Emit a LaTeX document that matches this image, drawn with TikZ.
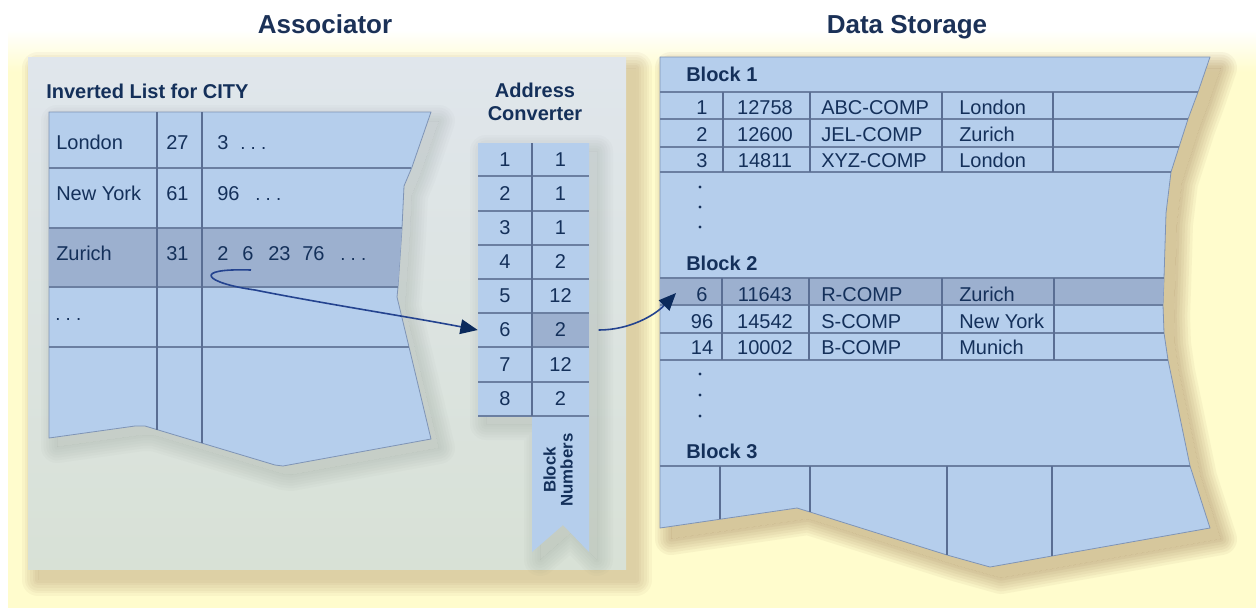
\documentclass[tikz,border=0pt]{standalone}
\usepackage{fontspec}
\setmainfont{Liberation Sans}
\usetikzlibrary{arrows.meta}
\definecolor{bgyel}{HTML}{FFFCCD}
\definecolor{panel}{HTML}{D8E1D6}
\definecolor{paneltop}{HTML}{E0E6EC}
\definecolor{cellblue}{HTML}{B5CEEC}
\definecolor{cellhi}{HTML}{9CB0CF}
\definecolor{gridc}{HTML}{6B7FA1}
\definecolor{vgridc}{HTML}{5A6E93}
\definecolor{edgec}{HTML}{7F94B6}
\definecolor{txt}{HTML}{14305A}
\definecolor{ttlc}{HTML}{1B3157}
\definecolor{curvec}{HTML}{24438F}
\definecolor{arrowc}{HTML}{0B2A5C}
\definecolor{shadowbrown}{HTML}{7A4E2E}
\definecolor{shadowgrey}{HTML}{4E5A50}
% #1 colour, #2 shift, #3 opacity per ring, #4 core opacity, #5 path
\newcommand\softshadow[5]{%
  \begin{scope}[shift={#2}]
    \begin{scope}[even odd rule]
      \clip (-300,-300) rectangle (1600,900) #5;
      \foreach \w in {24,20,16,12,8,4}{%
        \path[draw=#1,line width=\w pt,line join=round,draw opacity=#3] #5;}
    \end{scope}
    \path[fill=#1,fill opacity=#4] #5;
  \end{scope}}
\def\listpath{(49,112) -- (431,112) -- (412,167) -- (404,186) -- (402,228) -- (398,287) -- (397,297) -- (409,347) -- (431,439) -- (283,466) -- (275,465) -- (145,426) -- (135,426) -- (49,438) -- cycle}
\def\acpath{(478,143) -- (589,143) -- (589,552) -- (563,525) -- (532,552) -- (532,416) -- (478,416) -- cycle}
\def\dspath{(660,57) -- (1210,57) -- (1198,92) -- (1188,119) -- (1179,147) -- (1171,172) -- (1166,213) -- (1164,278) -- (1163,305) -- (1164,333) -- (1168,360) -- (1190,466) -- (1210,528) -- (990,567) -- (947,555) -- (810,512) -- (797,508) -- (660,528) -- cycle}
\tikzset{
  cell/.style={text=txt,font=\fontsize{15}{18}\selectfont,inner sep=0pt},
  hdr/.style={text=txt,font=\bfseries\fontsize{15}{18}\selectfont,inner sep=0pt},
  ttl/.style={text=ttlc,font=\bfseries\fontsize{19.5}{23}\selectfont,inner sep=0pt},
  dots/.style={text=txt,font=\fontsize{14}{16}\selectfont,inner sep=0pt},
  accl/.style={cell,minimum width=40.5pt,minimum height=25pt},
  accr/.style={cell,minimum width=42.75pt,minimum height=25pt},
  hline/.style={draw=gridc,line width=2pt},
  vline/.style={draw=vgridc,line width=1.7pt},
  shapefill/.style={fill=cellblue,draw=edgec,line width=0.6pt,line join=round},
  conn/.style={draw=curvec,line width=1.2pt,-{Triangle[length=13pt,width=11pt,color=arrowc]}}
}
\begin{document}
\begin{tikzpicture}[x=0.75pt,y=-0.75pt]
\useasboundingbox (0,0) rectangle (1256,608);
% background
\fill[white] (0,0) rectangle (1256,608);
\shade[top color=white,bottom color=bgyel] (8,30) rectangle (1256,72);
\fill[bgyel] (8,72) rectangle (1256,608);
% titles
\node[ttl,anchor=base] (tA) at (325,33) {Associator};
\node[ttl,anchor=base] (tD) at (907,33) {Data Storage};
% associator panel
\softshadow{shadowbrown}{(10,11)}{0.045}{0.25}{(28,57) rectangle (626,569)}
\shade[top color=paneltop,bottom color=panel] (28,57) rectangle (626,569);
\node[hdr,anchor=base west] (ilh) at (46,98) {Inverted List for CITY};
\node[hdr,anchor=base] (ach1) at (535,97) {Address};
\node[hdr,anchor=base] (ach2) at (535,120) {Converter};
% inverted list
\softshadow{shadowgrey}{(8,9)}{0.025}{0.14}{\listpath}
\path[shapefill] \listpath;
\fill[cellhi] (49,228) -- (402,228) -- (398,287) -- (49,287) -- cycle;
\draw[hline] (49,168) -- (411,168);
\draw[hline] (49,228) -- (402,228);
\draw[hline] (49,287) -- (398,287);
\draw[hline] (49,347) -- (409,347);
\draw[vline] (157,112) -- (157,430);
\draw[vline] (202,112) -- (202,443);
\node[cell,anchor=base west] (l1a) at (56,149) {London};
\node[cell,anchor=base west] (l1b) at (166,149) {27};
\node[cell,anchor=base west] (l1c) at (217,149) {3};
\node[dots,anchor=base west] (l1d) at (240,149) {.\ .\ .};
\node[cell,anchor=base west] (l2a) at (56,200) {New York};
\node[cell,anchor=base west] (l2b) at (166,200) {61};
\node[cell,anchor=base west] (l2c) at (217,200) {96};
\node[dots,anchor=base west] (l2d) at (255,200) {.\ .\ .};
\node[cell,anchor=base west] (l3a) at (56,260) {Zurich};
\node[cell,anchor=base west] (l3b) at (166,260) {31};
\node[cell,anchor=base west] (z2) at (217,260) {2};
\node[cell,anchor=base west] (z6) at (242,260) {6};
\node[cell,anchor=base west] (z23) at (268,260) {23};
\node[cell,anchor=base west] (z76) at (302,260) {76};
\node[dots,anchor=base west] (zd) at (340,260) {.\ .\ .};
\node[dots,anchor=base west] (l4a) at (55,320) {.\ .\ .};
% address converter
\softshadow{shadowgrey}{(8,8)}{0.025}{0.14}{\acpath}
\path[fill=cellblue] \acpath;
\fill[cellhi] (532,313) rectangle (589,347);
\foreach \yy in {176,211,245,279,313,347,382,416}{\draw[hline] (478,\yy) -- (589,\yy);}
\draw[vline] (532,143) -- (532,416);
\foreach \i/\yy/\r in {1/159.5/1,2/193.5/1,3/228/1,4/262/2,5/296/12,6/330/2,7/364.5/12,8/399/2}{
  \node[accl] (acL\i) at (505,\yy) {\i};
  \node[accr] (acR\i) at (560.5,\yy) {\r};
}
\node[hdr,font=\bfseries\fontsize{12.6}{12.75}\selectfont,rotate=90,align=center] (bn) at (558,470) {Block\\Numbers};
% data storage
\softshadow{shadowbrown}{(11,11)}{0.055}{0.3}{\dspath}
\path[shapefill] \dspath;
\fill[cellhi] (660,278) -- (1164,278) -- (1163,305) -- (660,305) -- cycle;
\draw[hline] (660,92) -- (1198,92);
\draw[hline] (660,119) -- (1188,119);
\draw[hline] (660,147) -- (1179,147);
\draw[hline] (660,172) -- (1171,172);
\foreach \xx in {723,810,942,1053}{\draw[vline] (\xx,92) -- (\xx,172);}
\draw[hline] (660,278) -- (1164,278);
\draw[hline] (660,305) -- (1163,305);
\draw[hline] (660,333) -- (1164,333);
\draw[hline] (660,360) -- (1168,360);
\foreach \xx in {722,809,942,1054}{\draw[vline] (\xx,278) -- (\xx,360);}
\draw[hline] (660,466) -- (1190,466);
\draw[vline] (720,466) -- (720,519);
\draw[vline] (810,466) -- (810,512);
\draw[vline] (947,466) -- (947,555);
\draw[vline] (1052,466) -- (1052,556);
\node[hdr,anchor=base west] (b1) at (686,81) {Block 1};
\node[hdr,anchor=base west] (b2) at (686,270) {Block 2};
\node[hdr,anchor=base west] (b3) at (686,458) {Block 3};
\foreach \n/\bl/\a/\b/\c/\d in {r1/114/1/12758/ABC-COMP/London,r2/141/2/12600/JEL-COMP/Zurich,r3/167/3/14811/XYZ-COMP/London,s1/301/6/11643/R-COMP/Zurich,s2/328/96/14542/S-COMP/New York,s3/354/14/10002/B-COMP/Munich}{
  \node[cell,anchor=base] (\n a) at (702,\bl) {\a};
  \node[cell,anchor=base] (\n b) at (765,\bl) {\b};
  \node[cell,anchor=base west] (\n c) at (821,\bl) {\c};
  \node[cell,anchor=base west] (\n d) at (959,\bl) {\d};
}
\foreach \yy in {187,207,227,374,395,416}{\fill[txt] (700,\yy) circle (1.6);}
% connectors
\coordinate (zstart) at (251,270);
\coordinate (dsin) at (676,293);
\draw[conn] (zstart) .. controls (190,268) and (205,283) .. (255,290) .. controls (320,303) and (410,317) .. (acL6.west);
\draw[conn,shorten <=7pt] (acR6.east) .. controls (630,330) and (655,315) .. (dsin);
\end{tikzpicture}
\end{document}
